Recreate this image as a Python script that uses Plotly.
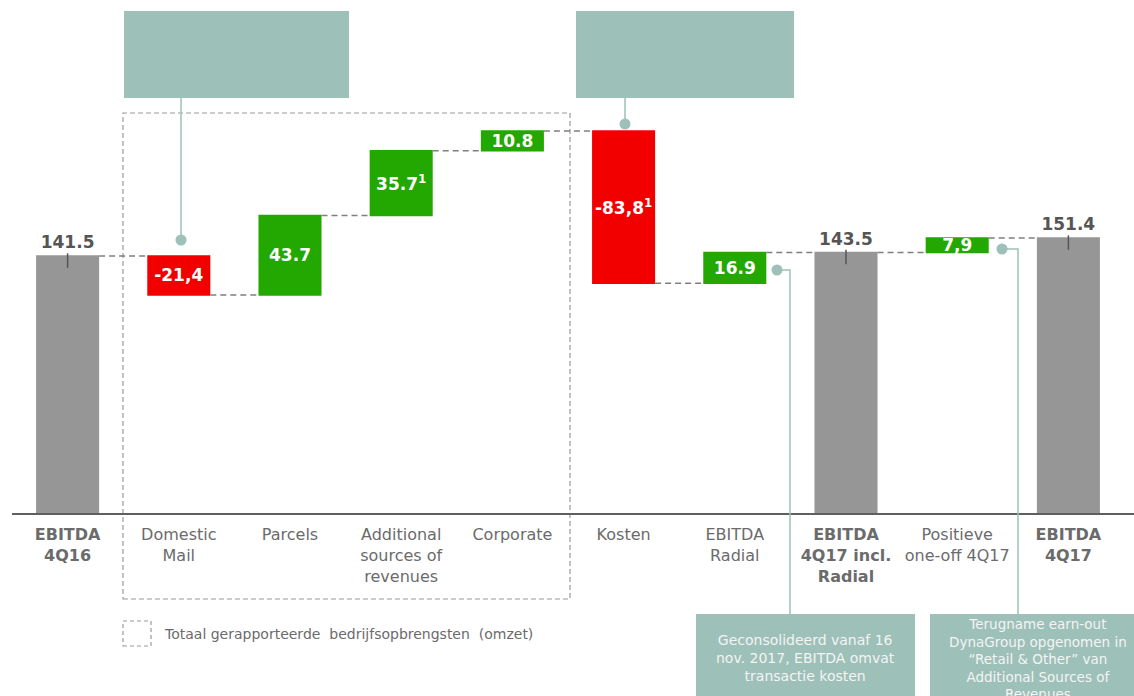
import plotly.graph_objects as go

# ---------------- data ----------------
categories = ["EBITDA 4Q16", "Domestic Mail", "Parcels", "Additional sources of revenues",
              "Corporate", "Kosten", "EBITDA Radial", "EBITDA 4Q17 incl. Radial",
              "Positieve one-off 4Q17", "EBITDA 4Q17"]
tick_labels = ["<b>EBITDA<br>4Q16</b>", "Domestic<br>Mail", "Parcels",
               "Additional<br>sources of<br>revenues", "Corporate", "Kosten",
               "EBITDA<br>Radial", "<b>EBITDA<br>4Q17 incl.<br>Radial</b>",
               "Positieve<br>one-off 4Q17", "<b>EBITDA<br>4Q17</b>"]
values = [141.5, -21.4, 43.7, 35.7, 10.8, -83.8, 16.9, 143.5, 7.9, 151.4]
measures = ["absolute", "relative", "relative", "relative", "relative",
            "relative", "relative", "absolute", "relative", "total"]
value_labels = ["141.5", "-21,4", "43.7", "35.7<sup>1</sup>", "10.8",
                "-83,8<sup>1</sup>", "16.9", "143.5", "7,9", "151.4"]
total_idx = [0, 7, 9]

note_radial = "Geconsolideerd vanaf 16<br>nov. 2017, EBITDA omvat<br>transactie kosten"
note_dyna = ("Terugname earn-out<br>DynaGroup opgenomen in<br>\u201cRetail & Other\u201d van"
             "<br>Additional Sources of<br>Revenues")
legend_text = "Totaal gerapporteerde  bedrijfsopbrengsten  (omzet)"

# ---------------- style ----------------
GRAY = "#969696"
RED = "#f20000"
GREEN = "#22a800"
TEAL = "#9dc0b8"
DARK = "#555555"
FONT = "DejaVu Sans"

W_FIG, H_FIG = 1134, 696
ML, MR, MT, MB = 12, 0, 0, 183
PW = W_FIG - ML - MR
PH = H_FIG - MT - MB


def px(x):
    return (x - ML) / PW


def py(y):
    return (PH - (y - MT)) / PH


textpos = ["outside" if i in total_idx else "inside" for i in range(len(values))]

fig = go.Figure(go.Waterfall(
    x=categories,
    y=values,
    measure=measures,
    text=value_labels,
    textposition=textpos,
    texttemplate="%{text}",
    textangle=0,
    constraintext="none",
    insidetextanchor="middle",
    insidetextfont=dict(family=FONT, size=17, color="white", weight="bold"),
    outsidetextfont=dict(family=FONT, size=17, color=DARK, weight="bold"),
    increasing=dict(marker=dict(color=GREEN)),
    decreasing=dict(marker=dict(color=RED)),
    totals=dict(marker=dict(color=GRAY)),
    connector=dict(line=dict(color="#7f7f7f", width=1.5, dash="6px,4px")),
    hoverinfo="skip",
    cliponaxis=False,
))

shapes = []
# small tick marks on the total bars
for i in total_idx:
    v = values[i]
    shapes.append(dict(type="line", xref="x", yref="y", x0=categories[i], x1=categories[i],
                       y0=v + 1.5, y1=v - 6.5, line=dict(color=DARK, width=1.5)))

# dashed frame around revenue categories
shapes.append(dict(type="rect", xref="paper", yref="paper",
                   x0=px(123), x1=px(570), y0=py(599), y1=py(113),
                   line=dict(color="#9a9a9a", width=1.2, dash="5px,3px"), layer="below"))
# legend dashed square
shapes.append(dict(type="rect", xref="paper", yref="paper",
                   x0=px(123), x1=px(151), y0=py(646), y1=py(621),
                   line=dict(color="#9a9a9a", width=1.2, dash="4px,3px")))

# callout boxes
for (x0, x1, y0, y1) in [(124, 349, 11, 98), (576, 794, 11, 98),
                         (696, 915, 614, 720), (930, 1160, 614, 720)]:
    shapes.append(dict(type="rect", xref="paper", yref="paper",
                       x0=px(x0), x1=px(x1), y0=py(y1), y1=py(y0),
                       fillcolor=TEAL, line=dict(width=0), layer="below"))

# callout leader lines
for pts in [[(181, 98), (181, 240)], [(625, 98), (625, 124)],
            [(777, 270), (790, 270), (790, 614)], [(1002, 249), (1018, 249), (1018, 614)]]:
    path = "M " + " L ".join(f"{px(a)},{py(b)}" for a, b in pts)
    shapes.append(dict(type="path", xref="paper", yref="paper", path=path,
                       line=dict(color=TEAL, width=1.5)))
for (cx, cy) in [(181, 240), (625, 124), (777, 270), (1002, 249)]:
    r = 5.5
    shapes.append(dict(type="circle", xref="paper", yref="paper",
                       x0=px(cx - r), x1=px(cx + r), y0=py(cy + r), y1=py(cy - r),
                       fillcolor=TEAL, line=dict(width=0)))

annotations = [
    dict(xref="paper", yref="paper", x=px(805), y=py(658), text=note_radial,
         showarrow=False, xanchor="center", yanchor="middle", align="center",
         font=dict(family=FONT, size=14, color="#f4f4f4")),
    dict(xref="paper", yref="paper", x=px(1038), y=py(659), text=note_dyna,
         showarrow=False, xanchor="center", yanchor="middle", align="center",
         font=dict(family=FONT, size=13.5, color="#f4f4f4")),
    dict(xref="paper", yref="paper", x=px(162), y=py(634), text=legend_text,
         showarrow=False, xanchor="left", yanchor="middle",
         font=dict(family=FONT, size=14, color="#6b6b6b")),
]

fig.update_layout(
    width=W_FIG, height=H_FIG,
    margin=dict(l=ML, r=MR, t=MT, b=MB),
    paper_bgcolor="white", plot_bgcolor="white",
    showlegend=False,
    waterfallgap=0.433,
    xaxis=dict(
        type="category", range=[-0.5, 9.59],
        tickvals=categories, ticktext=tick_labels,
        tickfont=dict(family=FONT, size=16, color="#6b6b6b"),
        showline=True, linecolor="#5f5f5f", linewidth=1.5,
        ticks="outside", ticklen=6, tickcolor="rgba(0,0,0,0)",
        showgrid=False, zeroline=False,
    ),
    yaxis=dict(range=[0, PH / 1.816], visible=False, showgrid=False, zeroline=False),
    shapes=shapes,
    annotations=annotations,
)

fig.write_html("out.html")
